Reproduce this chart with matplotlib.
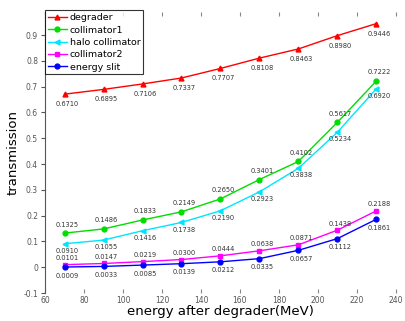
import matplotlib
matplotlib.use("Agg")
import matplotlib.pyplot as plt
from matplotlib.ticker import FixedLocator, FixedFormatter

energy = [70, 90, 110, 130, 150, 170, 190, 210, 230]
degrader = [0.6710, 0.6895, 0.7106, 0.7337, 0.7707, 0.8108, 0.8463, 0.8980, 0.9446]
collimator1 = [0.1325, 0.1486, 0.1833, 0.2149, 0.2650, 0.3401, 0.4102, 0.5617, 0.7222]
halo_collimator = [0.0910, 0.1055, 0.1416, 0.1738, 0.2190, 0.2923, 0.3838, 0.5234, 0.6920]
collimator2 = [0.0101, 0.0147, 0.0219, 0.0300, 0.0444, 0.0638, 0.0871, 0.1438, 0.2188]
energy_slit = [0.0009, 0.0033, 0.0085, 0.0139, 0.0212, 0.0335, 0.0657, 0.1112, 0.1861]

series_names = ["degrader", "collimator1", "halo collimator", "collimator2", "energy slit"]
x_ticks = [60, 80, 100, 120, 140, 160, 180, 200, 220, 240]
y_ticks = [-0.1, 0, 0.1, 0.2, 0.3, 0.4, 0.5, 0.6, 0.7, 0.8, 0.9]
y_tick_labels = ["-0.1", "0", "0.1", "0.2", "0.3", "0.4", "0.5", "0.6", "0.7", "0.8", "0.9"]

fig = plt.figure(figsize=(4.06, 3.21), dpi=100)
ax = fig.add_axes([0.111, 0.087, 0.864, 0.876])

series = [degrader, collimator1, halo_collimator, collimator2, energy_slit]
colors = ["#ff0000", "#00dd00", "#00e5ff", "#ff00ff", "#0000ff"]
markers = ["^", "o", "<", "s", "o"]
label_offsets = [-5, 4, -3, 2.5, -4]

for vals, name, c, m, dy in zip(series, series_names, colors, markers, label_offsets):
    ax.plot(energy, vals, color=c, marker=m, markersize=3.5, linewidth=1.0, label=name)
    for xv, yv in zip(energy, vals):
        ax.annotate(f"{yv:.4f}", (xv, yv), xytext=(2, dy), textcoords="offset points",
                    ha="center", va="bottom" if dy > 0 else "top", fontsize=4.8,
                    color="#333333")

ax.set_xlim(60, 240)
ax.set_ylim(-0.1, 0.99)
ax.xaxis.set_major_locator(FixedLocator(x_ticks))
ax.yaxis.set_major_locator(FixedLocator(y_ticks))
ax.yaxis.set_major_formatter(FixedFormatter(y_tick_labels))

for s in ["top", "right", "bottom"]:
    ax.spines[s].set_visible(False)
ax.spines["left"].set_color("#555555")
ax.spines["left"].set_linewidth(0.8)

ax.tick_params(axis="x", which="both", top=True, bottom=True, direction="in",
               length=3, color="#888888", labelsize=5.5, labelcolor="#555555", pad=2)
ax.tick_params(axis="y", direction="out", length=3, color="#555555",
               labelsize=5.5, labelcolor="#555555", pad=2)

ax.set_xlabel("energy after degrader(MeV)", fontsize=9.5, labelpad=0)
ax.set_ylabel("transmission", fontsize=9.5, labelpad=3)

leg = ax.legend(loc="upper left", bbox_to_anchor=(0.0, 1.005), fontsize=6.8,
                frameon=True, fancybox=False, borderaxespad=0, handlelength=2.0,
                handletextpad=0.3, labelspacing=0.35, borderpad=0.3)
leg.get_frame().set_edgecolor("black")
leg.get_frame().set_linewidth(0.8)

fig.savefig("out.png", dpi=100)
